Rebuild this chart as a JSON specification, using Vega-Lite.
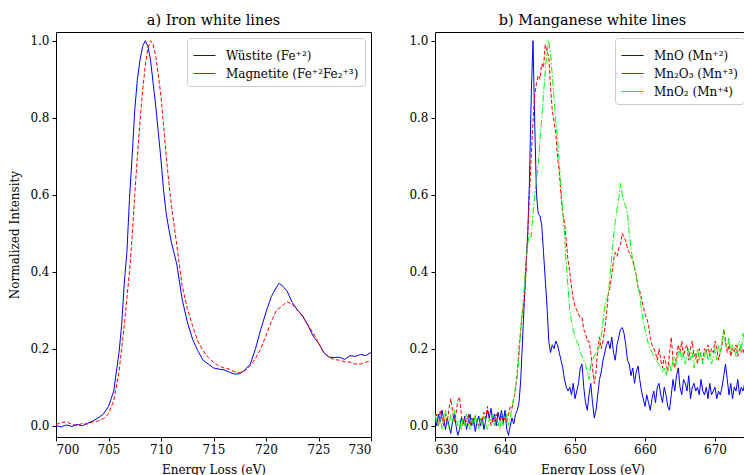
{
  "$schema": "https://vega.github.io/schema/vega-lite/v6.json",
  "background": "white",
  "padding": {"left": 8, "top": 12, "right": 0, "bottom": 0},
  "spacing": 36,
  "resolve": {"scale": {"color": "independent"}, "legend": {"color": "independent"}},
  "config": {
    "font": "DejaVu Serif",
    "view": {"stroke": "black", "strokeWidth": 1},
    "axis": {"domain": false, "grid": false, "ticks": true, "tickColor": "black", "tickSize": 4, "tickWidth": 1, "labelColor": "black", "labelFont": "DejaVu Serif", "labelFontSize": 12, "titleFont": "DejaVu Serif", "titleFontSize": 12, "titleFontWeight": "normal", "titleColor": "black", "labelPadding": 3, "titlePadding": 9},
    "axisY": {"titlePadding": 8},
    "title": {"font": "DejaVu Serif", "fontSize": 14.4, "fontWeight": "normal", "color": "black", "offset": 4},
    "legend": {"labelFont": "DejaVu Serif", "labelFontSize": 12, "labelColor": "black"}
  },
  "hconcat": [
    {
      "title": "a) Iron white lines",
      "width": 315,
      "height": 405,
      "data": {"values": [
        {"e":700,"w":0.0,"m":0.003},{"e":700.5,"w":-0.003,"m":0.008},{"e":701,"w":0.002,"m":0.01},{"e":701.5,"w":-0.002,"m":0.004},
        {"e":702,"w":0.003,"m":0.0},{"e":702.5,"w":0.0,"m":0.006},{"e":703,"w":0.006,"m":0.004},{"e":703.5,"w":0.012,"m":0.01},
        {"e":704,"w":0.02,"m":0.012},{"e":704.5,"w":0.03,"m":0.018},{"e":705,"w":0.05,"m":0.03},{"e":705.5,"w":0.09,"m":0.065},
        {"e":706,"w":0.19,"m":0.14},{"e":706.25,"w":0.26,"m":0.2},{"e":706.5,"w":0.37,"m":0.26},{"e":706.75,"w":0.45,"m":0.33},
        {"e":707,"w":0.59,"m":0.4},{"e":707.25,"w":0.7,"m":0.49},{"e":707.5,"w":0.82,"m":0.6},{"e":707.75,"w":0.9,"m":0.7},
        {"e":708,"w":0.95,"m":0.79},{"e":708.25,"w":0.985,"m":0.87},{"e":708.5,"w":1.0,"m":0.935},{"e":708.75,"w":0.985,"m":0.98},
        {"e":709,"w":0.95,"m":1.0},{"e":709.25,"w":0.89,"m":0.99},{"e":709.5,"w":0.83,"m":0.96},{"e":709.75,"w":0.76,"m":0.91},
        {"e":710,"w":0.69,"m":0.855},{"e":710.25,"w":0.61,"m":0.78},{"e":710.5,"w":0.55,"m":0.7},{"e":710.75,"w":0.51,"m":0.63},
        {"e":711,"w":0.475,"m":0.57},{"e":711.5,"w":0.42,"m":0.47},{"e":712,"w":0.33,"m":0.365},{"e":712.5,"w":0.27,"m":0.305},
        {"e":713,"w":0.225,"m":0.26},{"e":713.5,"w":0.195,"m":0.22},{"e":714,"w":0.17,"m":0.195},{"e":714.5,"w":0.16,"m":0.177},
        {"e":715,"w":0.15,"m":0.165},{"e":715.5,"w":0.147,"m":0.155},{"e":716,"w":0.145,"m":0.15},{"e":716.5,"w":0.139,"m":0.147},
        {"e":717,"w":0.134,"m":0.14},{"e":717.5,"w":0.135,"m":0.138},{"e":718,"w":0.145,"m":0.143},{"e":718.5,"w":0.16,"m":0.155},
        {"e":719,"w":0.2,"m":0.175},{"e":719.5,"w":0.25,"m":0.2},{"e":720,"w":0.295,"m":0.234},{"e":720.5,"w":0.335,"m":0.27},
        {"e":721,"w":0.36,"m":0.3},{"e":721.25,"w":0.37,"m":0.305},{"e":721.5,"w":0.365,"m":0.31},{"e":722,"w":0.35,"m":0.322},
        {"e":722.5,"w":0.32,"m":0.315},{"e":723,"w":0.3,"m":0.3},{"e":723.5,"w":0.285,"m":0.283},{"e":724,"w":0.26,"m":0.262},
        {"e":724.5,"w":0.232,"m":0.24},{"e":725,"w":0.215,"m":0.215},{"e":725.5,"w":0.19,"m":0.19},{"e":726,"w":0.178,"m":0.178},
        {"e":726.5,"w":0.177,"m":0.172},{"e":727,"w":0.178,"m":0.17},{"e":727.5,"w":0.172,"m":0.166},{"e":728,"w":0.182,"m":0.165},
        {"e":728.5,"w":0.18,"m":0.16},{"e":729,"w":0.185,"m":0.16},{"e":729.5,"w":0.182,"m":0.165},{"e":730,"w":0.19,"m":0.168}
      ]},
      "transform": [{"fold": ["w", "m"], "as": ["s", "v"]}],
      "encoding": {
        "x": {"field": "e", "type": "quantitative", "scale": {"domain": [700, 730], "nice": false, "zero": false}, "axis": {"values": [700, 705, 710, 715, 720, 725, 730], "title": "Energy Loss (eV)"}},
        "y": {"field": "v", "type": "quantitative", "scale": {"domain": [-0.0294, 1.0226], "nice": false, "zero": false}, "axis": {"values": [0, 0.2, 0.4, 0.6, 0.8, 1.0], "format": ".1f", "title": "Normalized Intensity"}},
        "color": {"field": "s", "type": "nominal", "scale": {"domain": ["w", "m"], "range": ["#0000ff", "#ff0000"]},
          "legend": {"title": null, "orient": "top-right", "offset": 6, "padding": 6, "fillColor": "white", "strokeColor": "#cccccc", "cornerRadius": 3, "symbolType": "stroke", "symbolSize": 484, "symbolStrokeWidth": 1, "rowPadding": -2, "labelOffset": 10,
            "labelExpr": "datum.label == 'w' ? 'Wüstite (Fe⁺²)' : 'Magnetite (Fe⁺²Fe₂⁺³)'"}}
      },
      "layer": [
        {"transform": [{"filter": "datum.s == 'w'"}], "mark": {"type": "line", "strokeWidth": 1, "clip": true}},
        {"transform": [{"filter": "datum.s == 'm'"}], "mark": {"type": "line", "strokeWidth": 1, "clip": true, "strokeDash": [4, 2]}}
      ]
    },
    {
      "title": "b) Manganese white lines",
      "width": 315,
      "height": 405,
      "data": {"values": [
        {"e":630,"a":0.02,"b":0.01,"c":0.03},{"e":630.25,"a":0.0,"b":0.03,"c":0.01},{"e":630.5,"a":0.03,"b":0.0,"c":0.0},{"e":630.75,"a":0.01,"b":0.04,"c":0.02},
        {"e":631,"a":0.04,"b":0.02,"c":-0.01},{"e":631.25,"a":0.015,"b":0.0,"c":0.02},{"e":631.5,"a":-0.01,"b":0.03,"c":0.04},{"e":631.75,"a":0.02,"b":0.01,"c":0.01},
        {"e":632,"a":0.0,"b":0.045,"c":-0.005},{"e":632.25,"a":-0.02,"b":0.07,"c":0.03},{"e":632.5,"a":0.01,"b":0.04,"c":0.01},{"e":632.75,"a":0.03,"b":0.01,"c":0.04},
        {"e":633,"a":0.0,"b":0.03,"c":0.02},{"e":633.25,"a":-0.025,"b":0.065,"c":0.0},{"e":633.5,"a":-0.01,"b":0.075,"c":0.015},{"e":633.75,"a":0.02,"b":0.03,"c":-0.01},
        {"e":634,"a":0.005,"b":0.0,"c":0.02},{"e":634.25,"a":0.025,"b":0.02,"c":0.0},{"e":634.5,"a":-0.01,"b":0.01,"c":0.03},{"e":634.75,"a":0.01,"b":0.03,"c":0.01},
        {"e":635,"a":0.03,"b":0.0,"c":-0.01},{"e":635.25,"a":0.0,"b":0.02,"c":0.015},{"e":635.5,"a":0.02,"b":0.005,"c":0.0},{"e":635.75,"a":-0.015,"b":0.025,"c":0.03},
        {"e":636,"a":0.01,"b":0.01,"c":0.01},{"e":636.25,"a":0.025,"b":0.0,"c":-0.01},{"e":636.5,"a":0.0,"b":0.02,"c":0.02},{"e":636.75,"a":0.02,"b":0.015,"c":0.0},
        {"e":637,"a":-0.01,"b":0.035,"c":0.025},{"e":637.25,"a":0.015,"b":0.02,"c":0.005},{"e":637.5,"a":0.04,"b":0.05,"c":-0.01},{"e":637.75,"a":0.02,"b":0.02,"c":0.02},
        {"e":638,"a":0.045,"b":0.0,"c":0.01},{"e":638.25,"a":0.01,"b":0.015,"c":0.03},{"e":638.5,"a":0.03,"b":0.01,"c":0.0},{"e":638.75,"a":0.0,"b":0.03,"c":0.02},
        {"e":639,"a":0.035,"b":0.0,"c":0.01},{"e":639.25,"a":0.015,"b":0.01,"c":-0.01},{"e":639.5,"a":0.04,"b":0.025,"c":0.02},{"e":639.75,"a":0.01,"b":0.005,"c":0.0},
        {"e":640,"a":0.04,"b":0.02,"c":0.01},{"e":640.25,"a":-0.01,"b":0.01,"c":0.03},{"e":640.5,"a":-0.025,"b":0.03,"c":0.0},{"e":640.75,"a":0.0,"b":0.05,"c":0.02},
        {"e":641,"a":0.02,"b":0.045,"c":0.05},{"e":641.25,"a":0.005,"b":0.07,"c":0.07},{"e":641.5,"a":0.03,"b":0.09,"c":0.1},{"e":641.75,"a":0.04,"b":0.14,"c":0.13},
        {"e":642,"a":0.06,"b":0.2,"c":0.18},{"e":642.25,"a":0.12,"b":0.25,"c":0.25},{"e":642.5,"a":0.22,"b":0.3,"c":0.3},{"e":642.75,"a":0.32,"b":0.32,"c":0.36},
        {"e":643,"a":0.42,"b":0.4,"c":0.43},{"e":643.25,"a":0.5,"b":0.5,"c":0.47},{"e":643.5,"a":0.64,"b":0.6,"c":0.5},{"e":643.75,"a":0.86,"b":0.7,"c":0.49},
        {"e":644,"a":1.0,"b":0.79,"c":0.55},{"e":644.25,"a":0.78,"b":0.86,"c":0.6},{"e":644.5,"a":0.6,"b":0.89,"c":0.64},{"e":644.75,"a":0.55,"b":0.91,"c":0.68},
        {"e":645,"a":0.545,"b":0.9,"c":0.74},{"e":645.25,"a":0.52,"b":0.94,"c":0.8},{"e":645.5,"a":0.45,"b":0.93,"c":0.86},{"e":645.75,"a":0.38,"b":0.99,"c":0.92},
        {"e":646,"a":0.31,"b":0.97,"c":0.97},{"e":646.25,"a":0.22,"b":0.96,"c":1.0},{"e":646.5,"a":0.19,"b":0.88,"c":0.97},{"e":646.75,"a":0.21,"b":0.82,"c":0.91},
        {"e":647,"a":0.2,"b":0.79,"c":0.85},{"e":647.25,"a":0.22,"b":0.76,"c":0.79},{"e":647.5,"a":0.21,"b":0.7,"c":0.75},{"e":647.75,"a":0.19,"b":0.66,"c":0.68},
        {"e":648,"a":0.17,"b":0.6,"c":0.62},{"e":648.25,"a":0.15,"b":0.55,"c":0.56},{"e":648.5,"a":0.12,"b":0.53,"c":0.5},{"e":648.75,"a":0.1,"b":0.48,"c":0.42},
        {"e":649,"a":0.09,"b":0.43,"c":0.36},{"e":649.25,"a":0.1,"b":0.4,"c":0.3},{"e":649.5,"a":0.08,"b":0.36,"c":0.27},{"e":649.75,"a":0.11,"b":0.33,"c":0.25},
        {"e":650,"a":0.07,"b":0.31,"c":0.23},{"e":650.25,"a":0.09,"b":0.3,"c":0.22},{"e":650.5,"a":0.11,"b":0.29,"c":0.21},{"e":650.75,"a":0.15,"b":0.28,"c":0.19},
        {"e":651,"a":0.16,"b":0.28,"c":0.18},{"e":651.25,"a":0.1,"b":0.25,"c":0.17},{"e":651.5,"a":0.06,"b":0.24,"c":0.16},{"e":651.75,"a":0.04,"b":0.22,"c":0.14},
        {"e":652,"a":0.08,"b":0.22,"c":0.12},{"e":652.25,"a":0.11,"b":0.19,"c":0.16},{"e":652.5,"a":0.06,"b":0.15,"c":0.17},{"e":652.75,"a":0.02,"b":0.11,"c":0.18},
        {"e":653,"a":0.04,"b":0.14,"c":0.19},{"e":653.25,"a":0.08,"b":0.2,"c":0.19},{"e":653.5,"a":0.12,"b":0.23,"c":0.21},{"e":653.75,"a":0.14,"b":0.2,"c":0.23},
        {"e":654,"a":0.17,"b":0.22,"c":0.27},{"e":654.25,"a":0.19,"b":0.25,"c":0.31},{"e":654.5,"a":0.21,"b":0.29,"c":0.33},{"e":654.75,"a":0.22,"b":0.34,"c":0.34},
        {"e":655,"a":0.2,"b":0.36,"c":0.39},{"e":655.25,"a":0.23,"b":0.39,"c":0.44},{"e":655.5,"a":0.19,"b":0.43,"c":0.49},{"e":655.75,"a":0.17,"b":0.45,"c":0.53},
        {"e":656,"a":0.21,"b":0.44,"c":0.56},{"e":656.25,"a":0.23,"b":0.46,"c":0.59},{"e":656.5,"a":0.25,"b":0.47,"c":0.63},{"e":656.75,"a":0.255,"b":0.5,"c":0.6},
        {"e":657,"a":0.24,"b":0.49,"c":0.58},{"e":657.25,"a":0.21,"b":0.48,"c":0.57},{"e":657.5,"a":0.17,"b":0.46,"c":0.55},{"e":657.75,"a":0.16,"b":0.45,"c":0.5},
        {"e":658,"a":0.13,"b":0.44,"c":0.46},{"e":658.25,"a":0.15,"b":0.43,"c":0.43},{"e":658.5,"a":0.11,"b":0.41,"c":0.41},{"e":658.75,"a":0.14,"b":0.39,"c":0.39},
        {"e":659,"a":0.155,"b":0.36,"c":0.36},{"e":659.25,"a":0.12,"b":0.35,"c":0.34},{"e":659.5,"a":0.09,"b":0.33,"c":0.3},{"e":659.75,"a":0.07,"b":0.31,"c":0.27},
        {"e":660,"a":0.05,"b":0.29,"c":0.25},{"e":660.25,"a":0.08,"b":0.28,"c":0.23},{"e":660.5,"a":0.06,"b":0.26,"c":0.21},{"e":660.75,"a":0.04,"b":0.23,"c":0.2},
        {"e":661,"a":0.07,"b":0.21,"c":0.19},{"e":661.25,"a":0.09,"b":0.2,"c":0.18},{"e":661.5,"a":0.06,"b":0.19,"c":0.17},{"e":661.75,"a":0.1,"b":0.17,"c":0.165},
        {"e":662,"a":0.11,"b":0.2,"c":0.16},{"e":662.25,"a":0.08,"b":0.17,"c":0.15},{"e":662.5,"a":0.06,"b":0.15,"c":0.14},{"e":662.75,"a":0.1,"b":0.18,"c":0.15},
        {"e":663,"a":0.08,"b":0.16,"c":0.13},{"e":663.25,"a":0.05,"b":0.14,"c":0.15},{"e":663.5,"a":0.04,"b":0.19,"c":0.16},{"e":663.75,"a":0.08,"b":0.23,"c":0.14},
        {"e":664,"a":0.12,"b":0.17,"c":0.17},{"e":664.25,"a":0.09,"b":0.15,"c":0.18},{"e":664.5,"a":0.13,"b":0.18,"c":0.16},{"e":664.75,"a":0.15,"b":0.21,"c":0.19},
        {"e":665,"a":0.1,"b":0.19,"c":0.2},{"e":665.25,"a":0.08,"b":0.22,"c":0.17},{"e":665.5,"a":0.12,"b":0.18,"c":0.19},{"e":665.75,"a":0.11,"b":0.2,"c":0.16},
        {"e":666,"a":0.09,"b":0.21,"c":0.18},{"e":666.25,"a":0.13,"b":0.17,"c":0.2},{"e":666.5,"a":0.07,"b":0.2,"c":0.17},{"e":666.75,"a":0.1,"b":0.22,"c":0.19},
        {"e":667,"a":0.11,"b":0.18,"c":0.15},{"e":667.25,"a":0.09,"b":0.19,"c":0.18},{"e":667.5,"a":0.1,"b":0.16,"c":0.2},{"e":667.75,"a":0.08,"b":0.2,"c":0.17},
        {"e":668,"a":0.12,"b":0.18,"c":0.19},{"e":668.25,"a":0.09,"b":0.17,"c":0.16},{"e":668.5,"a":0.08,"b":0.2,"c":0.18},{"e":668.75,"a":0.1,"b":0.19,"c":0.2},
        {"e":669,"a":0.07,"b":0.21,"c":0.17},{"e":669.25,"a":0.11,"b":0.18,"c":0.19},{"e":669.5,"a":0.08,"b":0.2,"c":0.16},{"e":669.75,"a":0.09,"b":0.19,"c":0.18},
        {"e":670,"a":0.1,"b":0.22,"c":0.2},{"e":670.25,"a":0.07,"b":0.2,"c":0.17},{"e":670.5,"a":0.09,"b":0.17,"c":0.21},{"e":670.75,"a":0.08,"b":0.19,"c":0.19},
        {"e":671,"a":0.1,"b":0.21,"c":0.22},{"e":671.25,"a":0.13,"b":0.25,"c":0.25},{"e":671.5,"a":0.16,"b":0.22,"c":0.21},{"e":671.75,"a":0.12,"b":0.19,"c":0.2},
        {"e":672,"a":0.08,"b":0.21,"c":0.23},{"e":672.25,"a":0.11,"b":0.18,"c":0.19},{"e":672.5,"a":0.07,"b":0.2,"c":0.21},{"e":672.75,"a":0.1,"b":0.19,"c":0.2},
        {"e":673,"a":0.09,"b":0.21,"c":0.18},{"e":673.25,"a":0.12,"b":0.18,"c":0.21},{"e":673.5,"a":0.08,"b":0.2,"c":0.22},{"e":673.75,"a":0.1,"b":0.19,"c":0.19},
        {"e":674,"a":0.09,"b":0.2,"c":0.24},{"e":674.25,"a":0.11,"b":0.18,"c":0.21},{"e":674.5,"a":0.08,"b":0.19,"c":0.2},{"e":674.75,"a":0.1,"b":0.2,"c":0.22},
        {"e":675,"a":0.09,"b":0.19,"c":0.21}
      ]},
      "transform": [{"fold": ["a", "b", "c"], "as": ["s", "v"]}],
      "encoding": {
        "x": {"field": "e", "type": "quantitative", "scale": {"domain": [630, 675], "nice": false, "zero": false}, "axis": {"values": [630, 640, 650, 660, 670], "title": "Energy Loss (eV)"}},
        "y": {"field": "v", "type": "quantitative", "scale": {"domain": [-0.0294, 1.0226], "nice": false, "zero": false}, "axis": {"values": [0, 0.2, 0.4, 0.6, 0.8, 1.0], "format": ".1f", "title": null}},
        "color": {"field": "s", "type": "nominal", "scale": {"domain": ["a", "b", "c"], "range": ["#0000ff", "#ff0000", "#00ff00"]},
          "legend": {"title": null, "orient": "top-right", "offset": 6, "padding": 6, "fillColor": "white", "strokeColor": "#cccccc", "cornerRadius": 3, "symbolType": "stroke", "symbolSize": 484, "symbolStrokeWidth": 1, "rowPadding": -3, "labelOffset": 10,
            "labelExpr": "datum.label == 'a' ? 'MnO (Mn⁺²)' : datum.label == 'b' ? 'Mn₂O₃ (Mn⁺³)' : 'MnO₂ (Mn⁺⁴)'"}}
      },
      "layer": [
        {"transform": [{"filter": "datum.s == 'a'"}], "mark": {"type": "line", "strokeWidth": 1, "clip": true}},
        {"transform": [{"filter": "datum.s == 'b'"}], "mark": {"type": "line", "strokeWidth": 1, "clip": true, "strokeDash": [4, 2]}},
        {"transform": [{"filter": "datum.s == 'c'"}], "mark": {"type": "line", "strokeWidth": 1, "clip": true, "strokeDash": [7, 2, 1.5, 2]}}
      ]
    }
  ]
}
